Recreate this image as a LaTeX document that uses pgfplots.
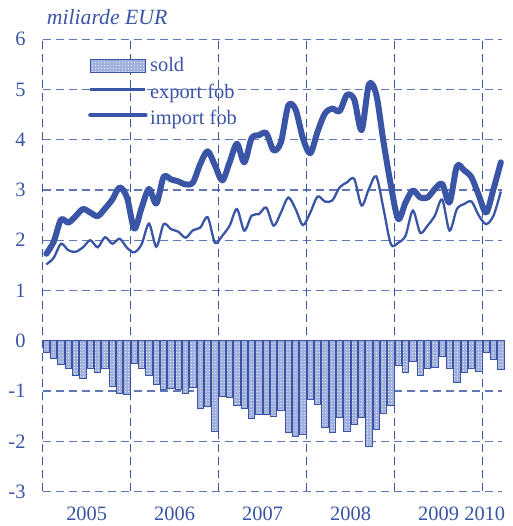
\documentclass[border=0pt]{standalone}
\usepackage{fontspec}
\setmainfont{Liberation Serif}
\usepackage{pgfplots}
\pgfplotsset{compat=1.18}
\usetikzlibrary{patterns}
\definecolor{bl}{RGB}{58,85,165}
\definecolor{barfill}{RGB}{160,175,220}
\pgfplotsset{
  barleg/.style={legend image code/.code={\draw[##1] (0bp,-6.5bp) rectangle (55bp,6.5bp);}},
  lineleg/.style={legend image code/.code={\draw[##1] (0bp,3.2bp) -- (55bp,3.2bp);}},
  thickleg/.style={legend image code/.code={\draw[bl, line width=4.5bp, line cap=round] (0bp,4bp) -- (55bp,4bp);}},
}

\pgfplotstableread{
x sold exp imp
0.5 -0.24 1.52 1.73
1.5 -0.36 1.65 1.97
2.5 -0.48 1.93 2.41
3.5 -0.56 1.80 2.35
4.5 -0.70 1.77 2.48
5.5 -0.76 1.86 2.62
6.5 -0.56 2.00 2.55
7.5 -0.64 1.86 2.48
8.5 -0.56 2.06 2.63
9.5 -0.90 1.93 2.81
10.5 -1.04 2.03 3.05
11.5 -1.07 1.85 2.85
12.5 -0.46 1.76 2.23
13.5 -0.55 1.92 2.65
14.5 -0.70 2.33 3.02
15.5 -0.86 1.87 2.73
16.5 -0.96 2.32 3.26
17.5 -0.95 2.22 3.21
18.5 -0.97 2.17 3.17
19.5 -1.04 2.05 3.11
20.5 -0.92 2.20 3.15
21.5 -1.34 2.25 3.52
22.5 -1.30 2.46 3.77
23.5 -1.80 1.95 3.49
24.5 -1.11 2.09 3.19
25.5 -1.12 2.29 3.55
26.5 -1.29 2.62 3.92
27.5 -1.35 2.19 3.55
28.5 -1.55 2.49 4.03
29.5 -1.46 2.52 4.09
30.5 -1.46 2.65 4.13
31.5 -1.51 2.29 3.79
32.5 -1.39 2.55 3.95
33.5 -1.82 2.85 4.68
34.5 -1.91 2.62 4.60
35.5 -1.87 2.30 4.03
36.5 -1.17 2.55 3.73
37.5 -1.26 2.87 4.16
38.5 -1.73 2.77 4.52
39.5 -1.83 2.79 4.62
40.5 -1.53 3.05 4.57
41.5 -1.80 3.15 4.89
42.5 -1.66 3.22 4.80
43.5 -1.53 2.69 4.19
44.5 -2.11 3.02 5.10
45.5 -1.77 3.27 4.90
46.5 -1.45 2.62 3.95
47.5 -1.29 1.92 3.09
48.5 -0.50 1.95 2.42
49.5 -0.64 2.09 2.75
50.5 -0.42 2.59 2.99
51.5 -0.69 2.15 2.85
52.5 -0.56 2.29 2.85
53.5 -0.54 2.49 3.02
54.5 -0.31 2.81 3.12
55.5 -0.55 2.19 2.75
56.5 -0.84 2.62 3.47
57.5 -0.64 2.72 3.39
58.5 -0.56 2.77 3.25
59.5 -0.62 2.49 2.89
60.5 -0.24 2.32 2.55
61.5 -0.38 2.49 3.02
62.5 -0.57 2.97 3.55
}\data

\begin{document}
\fontsize{20.5}{24}\selectfont
\begin{tikzpicture}
\begin{axis}[
  name=ax,
  scale only axis,
  width=461.8bp, height=452.3bp,
  xmin=0, xmax=63, ymin=-3, ymax=6,
  axis x line*=bottom, axis y line*=left,
  axis line style={draw=none},
  ytick={-3,-2,-1,0,1,2,3,4,5,6},
  yticklabels={-3,-2,-1,0,1,2,3,4,5,6},
  yticklabel style={inner sep=0pt, anchor=east, xshift=-17bp, text=bl},
  ytick style={draw=bl, line width=1bp},
  major tick length=7bp,
  tick align=inside,
  xtick={6,18,30,42,54,60.3},
  xticklabels={2005,2006,2007,2008,2009,2010},
  xtick style={draw=none},
  xticklabel style={inner sep=0pt, anchor=north, yshift=-15.5bp, text=bl},
  clip=false,
  legend style={draw=none, fill=none, at={(0.098,0.965)}, anchor=north west,
    inner sep=0pt, text=bl, row sep=4bp, nodes={inner sep=2.5bp}},
  legend cell align=left,
]
% grid
\foreach \yy in {-3,-2,-1,1,2,3,4,5,6}{
  \edef\tmp{\noexpand\draw[bl!80, line width=1.2bp, dash pattern=on 8bp off 5bp] (axis cs:0,\yy) -- (axis cs:62.6,\yy);}\tmp
}
\foreach \xx in {0,12,24,36,48,60}{
  \edef\tmp{\noexpand\draw[bl, line width=1.2bp, dash pattern=on 8bp off 5bp] (axis cs:\xx,-3) -- (axis cs:\xx,6);}\tmp
}

\addplot[ybar, bar width=0.86, draw=bl, line width=0.9bp, fill=barfill,
  postaction={pattern=dots, pattern color=white}, barleg]
  table[x=x, y=sold] {\data};
\addlegendentry{sold}

\addplot[bl, line width=2.3bp, smooth, no markers, lineleg]
  table[x=x, y=exp] {\data};
\addlegendentry{export fob}

\addplot[bl, line width=6bp, smooth, no markers, line cap=round, line join=round, thickleg]
  table[x=x, y=imp] {\data};
\addlegendentry{import fob}

\draw[bl, line width=1.3bp] (axis cs:0,0) -- (axis cs:63,0);

\node[anchor=base west, inner sep=0pt, text=bl, font=\fontsize{21.8}{24}\selectfont\itshape] at ([xshift=4bp, yshift=14.7bp]rel axis cs:0,1) {miliarde EUR};

\coordinate (axbl) at (rel axis cs:0,0);
\coordinate (axtr) at (rel axis cs:1,1);
\end{axis}
\pgfresetboundingbox
\path[use as bounding box] ([xshift=-42.7bp,yshift=-34.5bp]axbl) rectangle ([xshift=7.5bp,yshift=39.2bp]axtr);
\end{tikzpicture}
\end{document}
